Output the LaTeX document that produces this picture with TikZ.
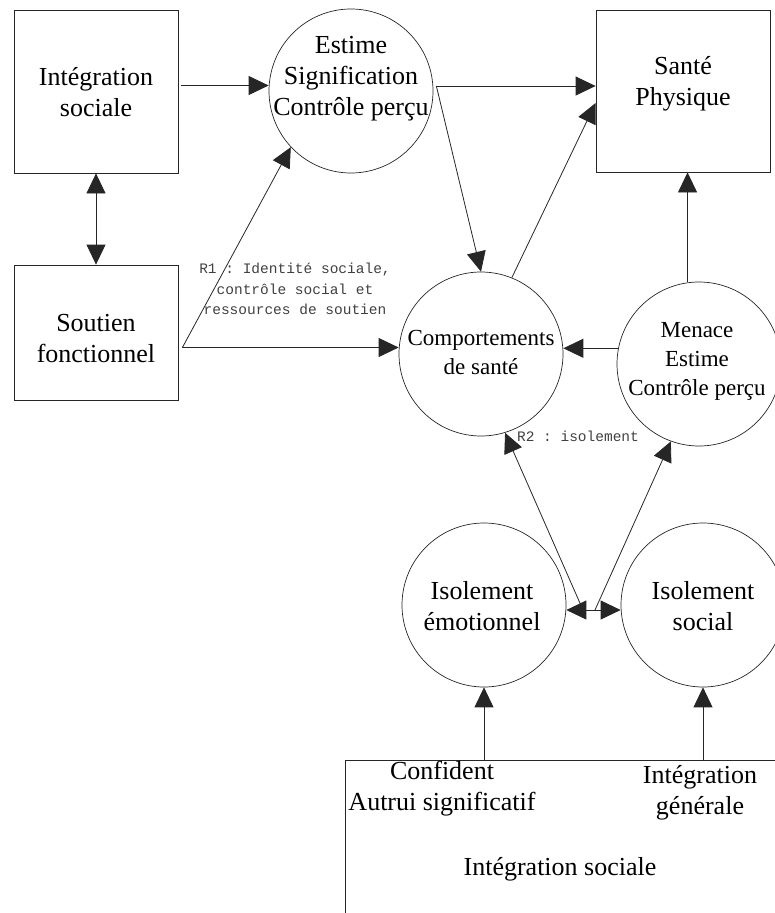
\documentclass[tikz,border=0pt]{standalone}
\usepackage{fontspec}
\setmainfont{Liberation Serif}
\setmonofont{Liberation Mono}
\usetikzlibrary{arrows.meta}

\tikzset{
  boite/.style={draw=black!85, line width=0.8pt, inner sep=0pt},
  rond/.style={circle, draw=black!85, line width=0.7pt, minimum size=164pt, inner sep=0pt},
  grand/.style={align=center, inner sep=0pt, font=\fontsize{26}{31}\selectfont},
  petit/.style={align=center, inner sep=0pt, font=\fontsize{23}{29}\selectfont},
  note/.style={align=center, inner sep=0pt, text=black!75, font=\ttfamily\fontsize{14.5}{20.5}\selectfont},
  fl/.style={draw=black!85, line width=0.8pt, -{Triangle[length=20pt,width=19pt]}},
  dfl/.style={draw=black!85, line width=0.8pt, {Triangle[length=20pt,width=19pt]}-{Triangle[length=20pt,width=19pt]}},
}

\begin{document}
\begin{tikzpicture}[x=1pt, y=-1pt]
    \useasboundingbox (0,0) rectangle (775,913);
    \clip (0,0) rectangle (775,913);

    % boites
    \node[boite, minimum width=164pt, minimum height=163pt] (intsoc) at (96,91.5) {};
    \node[boite, minimum width=164pt, minimum height=135pt] (soutien) at (96,332.5) {};
    \node[boite, minimum width=174pt, minimum height=162pt] (sante) at (683,91) {};
    \node[boite, minimum width=450pt, minimum height=180pt] (intbas) at (570,850) {};

    % cercles
    \node[rond] (estime) at (351,91) {};
    \node[rond] (comp) at (481,354) {};
    \node[rond] (menace) at (699,364) {};
    \node[rond] (isoemo) at (484,605) {};
    \node[rond] (isosoc) at (703,605) {};

    % textes
    \node[grand] (intsoc-t) at (96,92) {Intégration\\sociale};
    \node[grand] (soutien-t) at (96,339) {Soutien\\fonctionnel};
    \node[grand] (sante-t) at (683,84) {Santé\\Physique};
    \node[grand] (estime-t) at (351,79) {Estime\\Signification\\Contrôle perçu};
    \node[petit] (comp-t) at (481,352) {Comportements\\de santé};
    \node[petit] (menace-t) at (697,361) {Menace\\Estime\\Contrôle perçu};
    \node[grand] (isoemo-t) at (482,606) {Isolement\\émotionnel};
    \node[grand] (isosoc-t) at (703,606) {Isolement\\social};
    \node[grand] (conf-t) at (442,789) {Confident\\Autrui significatif};
    \node[grand] (gen-t) at (700,793) {Intégration\\générale};
    \node[grand] (intbas-t) at (560,869) {Intégration sociale};
    \node[note] (r1) at (295,289) {R1 : Identité sociale,\\contrôle social et\\ressources de soutien};
    \node[note] (r2) at (578,436) {R2 : isolement};

    % points de depart
    \coordinate (i1) at ([xshift=3pt,yshift=6pt]intsoc.east);
    \coordinate (e1) at ([xshift=3pt,yshift=5pt]estime.east);
    \coordinate (s1) at ([xshift=4pt,yshift=-15pt]soutien.east);
    \coordinate (m1) at (menace.169);
    \coordinate (r2a) at (583,610);
    \coordinate (r2b) at (595,610);

    % fleches
    \draw[dfl] (intsoc.south) -- (soutien.north);
    \draw[fl] (i1) -- (i1 -| estime.west);
    \draw[fl] (e1) -- (e1 -| sante.west);
    \draw[fl] (e1) -- (comp.north);
    \draw[fl] (comp.68) -- ([yshift=-12pt]sante.west);
    \draw[fl] (s1) -- (estime.223);
    \draw[fl] (s1) -- (s1 -| comp.west);
    \draw[fl] (m1) -- (m1 -| comp.east);
    \draw[fl] (menace.98) -- (menace.98 |- sante.south);
    \draw[dfl] (isoemo.east |- r2a) -- (isosoc.west |- r2a);
    \draw[fl] (r2a) -- (comp.287);
    \draw[fl] (r2b) -- (menace.250);
    \draw[fl] (intbas.north -| isoemo.south) -- (isoemo.south);
    \draw[fl] (intbas.north -| isosoc.south) -- (isosoc.south);
\end{tikzpicture}
\end{document}
